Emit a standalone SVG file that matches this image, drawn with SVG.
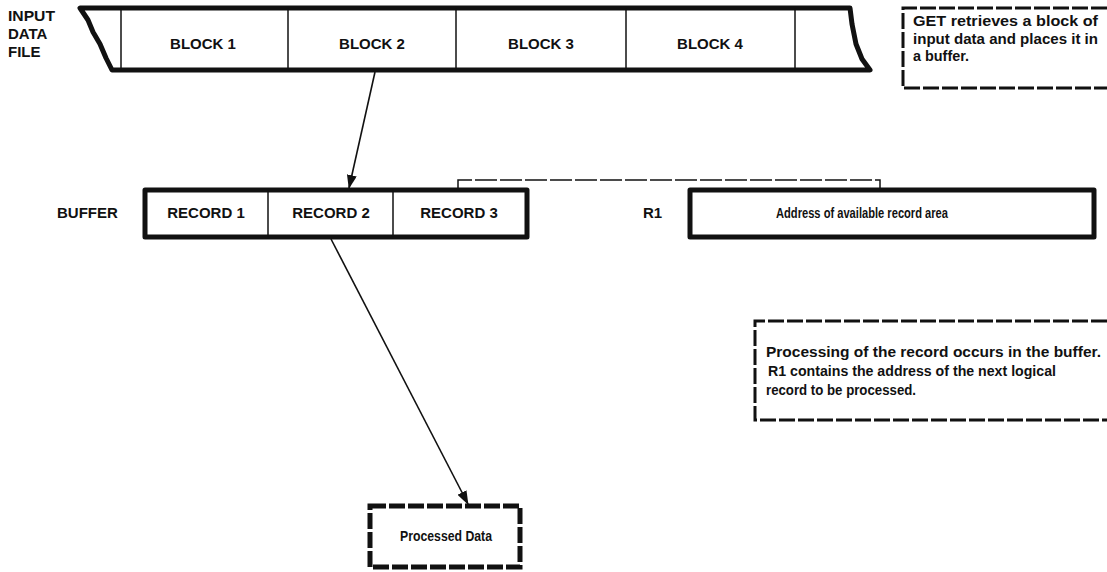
<svg xmlns="http://www.w3.org/2000/svg" width="1107" height="572" viewBox="0 0 1107 572">
<defs>
<style>
text{font-family:"Liberation Sans",Arial,sans-serif;font-weight:bold;fill:#111;font-size:15px}
.c{text-anchor:middle}
.thick{fill:none;stroke:#111;stroke-width:5;stroke-linejoin:round}
.thin{fill:none;stroke:#111;stroke-width:1.5}
.dash{fill:none;stroke:#111;stroke-width:3;stroke-dasharray:16 3}
.dashB{fill:none;stroke:#111;stroke-width:5;stroke-dasharray:16 3}
.brk{fill:none;stroke:#111;stroke-width:1.5;stroke-dasharray:22 3}
.conn{fill:none;stroke:#111;stroke-width:1.6}
</style>
<marker id="ah" markerWidth="14" markerHeight="10" refX="13" refY="5" orient="auto" markerUnits="userSpaceOnUse">
<path d="M0,0 L14,5 L0,10 Z" fill="#111"/>
</marker>
</defs>
<g id="input-label">
<text x="8" y="21" textLength="47" lengthAdjust="spacingAndGlyphs">INPUT</text>
<text x="8" y="39">DATA</text>
<text x="8" y="57">FILE</text>
</g>
<g id="input-file">
<path class="thick" d="M80,8 L850,8 L852,24 L856,44 L862,59 L870,70 L112,70 L106,58 L100,44 L93,32 L88,20 Z"/>
<line class="thin" x1="121" y1="8" x2="121" y2="70"/>
<line class="thin" x1="288" y1="8" x2="288" y2="70"/>
<line class="thin" x1="456" y1="8" x2="456" y2="70"/>
<line class="thin" x1="626" y1="8" x2="626" y2="70"/>
<line class="thin" x1="795" y1="8" x2="795" y2="70"/>
<text class="c" x="203" y="49">BLOCK 1</text>
<text class="c" x="372" y="49">BLOCK 2</text>
<text class="c" x="541" y="49">BLOCK 3</text>
<text class="c" x="710" y="49">BLOCK 4</text>
</g>
<g id="get-note">
<path class="dash" d="M1107,8 L903,8 L903,88 L1107,88"/>
<text x="913" y="26" textLength="185" lengthAdjust="spacingAndGlyphs">GET retrieves a block of</text>
<text x="913" y="44" textLength="185" lengthAdjust="spacingAndGlyphs">input data and places it in</text>
<text x="913" y="61" textLength="56" lengthAdjust="spacingAndGlyphs">a buffer.</text>
</g>
<g id="buffer">
<text x="57" y="218">BUFFER</text>
<rect class="thick" x="145" y="190" width="382" height="47"/>
<line class="thin" x1="268" y1="190" x2="268" y2="237"/>
<line class="thin" x1="393" y1="190" x2="393" y2="237"/>
<text class="c" x="206" y="218">RECORD 1</text>
<text class="c" x="331" y="218">RECORD 2</text>
<text class="c" x="459" y="218">RECORD 3</text>
</g>
<g id="r1">
<text x="643" y="218">R1</text>
<rect class="thick" x="690" y="190" width="404" height="47"/>
<text class="c" x="862" y="218" textLength="172" lengthAdjust="spacingAndGlyphs">Address of available record area</text>
</g>
<g id="processing-note">
<path class="dash" d="M1107,321 L755,321 L755,420 L1107,420"/>
<text x="766" y="357" textLength="335" lengthAdjust="spacingAndGlyphs">Processing of the record occurs in the buffer.</text>
<text x="768" y="376" textLength="288" lengthAdjust="spacingAndGlyphs">R1 contains the address of the next logical</text>
<text x="766" y="395" textLength="150" lengthAdjust="spacingAndGlyphs">record to be processed.</text>
</g>
<g id="processed-data">
<rect class="dashB" x="370" y="506" width="150" height="61"/>
<text class="c" x="446" y="541" textLength="92" lengthAdjust="spacingAndGlyphs">Processed Data</text>
</g>
<g id="connectors">
<line class="conn" x1="375" y1="72" x2="349" y2="188" marker-end="url(#ah)"/>
<line class="conn" x1="331" y1="239" x2="468" y2="504" marker-end="url(#ah)"/>
<path class="brk" d="M458,188 L458,180 L880,180 L880,188"/>
</g>
</svg>
